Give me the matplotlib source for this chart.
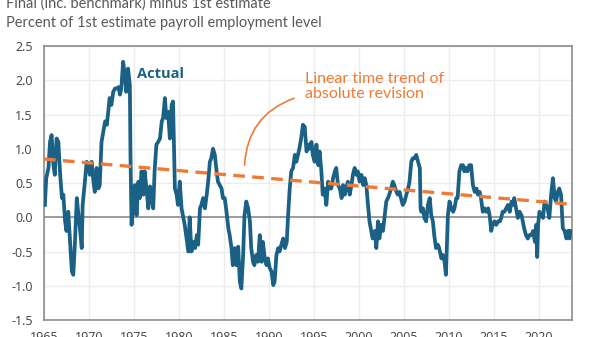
import matplotlib.pyplot as plt

# revision series: year, percent of 1st estimate level
years = [1965.1, 1965.25, 1965.5, 1965.67, 1965.85, 1966.05, 1966.2, 1966.4, 1966.6, 1966.8,
         1967.0, 1967.15, 1967.35, 1967.5, 1967.7, 1967.9, 1968.1, 1968.26, 1968.45, 1968.65,
         1968.8, 1969.0, 1969.2, 1969.3, 1969.55, 1969.75, 1969.95, 1970.1, 1970.3, 1970.5,
         1970.65, 1970.85, 1971.05, 1971.2, 1971.4, 1971.6, 1971.8, 1972.0, 1972.15, 1972.3,
         1972.5, 1972.7, 1972.9, 1973.1, 1973.3, 1973.45, 1973.6, 1973.8, 1974.0, 1974.15,
         1974.35, 1974.55, 1974.62, 1974.74, 1974.9, 1975.1, 1975.3, 1975.5, 1975.65, 1975.85,
         1976.05, 1976.2, 1976.4, 1976.6, 1976.8, 1977.0, 1977.15, 1977.3, 1977.5, 1977.7,
         1977.9, 1978.1, 1978.25, 1978.45, 1978.6, 1978.8, 1979.0, 1979.2, 1979.35, 1979.56,
         1979.75, 1979.9, 1980.1, 1980.3, 1980.5, 1980.65, 1980.85, 1981.05, 1981.2, 1981.4,
         1981.6, 1981.8, 1982.0, 1982.15, 1982.35, 1982.5, 1982.7, 1982.9, 1983.1, 1983.26,
         1983.45, 1983.6, 1983.8, 1984.0, 1984.2, 1984.35, 1984.55, 1984.75, 1984.9, 1985.1,
         1985.3, 1985.5, 1985.65, 1985.85, 1986.0, 1986.2, 1986.4, 1986.6, 1986.78, 1986.95,
         1987.15, 1987.3, 1987.5, 1987.7, 1987.9, 1988.05, 1988.25, 1988.4, 1988.6, 1988.8,
         1989.0, 1989.2, 1989.35, 1989.55, 1989.75, 1989.9, 1990.1, 1990.3, 1990.5, 1990.65,
         1990.85, 1991.05, 1991.2, 1991.4, 1991.6, 1991.8, 1992.0, 1992.15, 1992.33, 1992.5,
         1992.7, 1992.9, 1993.07, 1993.25, 1993.4, 1993.6, 1993.8, 1994.0, 1994.2, 1994.4,
         1994.55, 1994.75, 1994.9, 1995.1, 1995.3, 1995.5, 1995.65, 1995.85, 1996.0, 1996.2,
         1996.4, 1996.6, 1996.8, 1996.95, 1997.15, 1997.35, 1997.5, 1997.7, 1997.9, 1998.1,
         1998.26, 1998.45, 1998.6, 1998.8, 1999.0, 1999.2, 1999.35, 1999.55, 1999.75, 1999.9,
         2000.1, 2000.3, 2000.5, 2000.67, 2000.85, 2001.0, 2001.2, 2001.4, 2001.55, 2001.8,
         2001.96, 2002.15, 2002.3, 2002.5, 2002.7, 2002.9, 2003.07, 2003.25, 2003.4, 2003.6,
         2003.8, 2003.95, 2004.2, 2004.35, 2004.55, 2004.7, 2004.9, 2005.1, 2005.3, 2005.5,
         2005.65, 2005.85, 2006.0, 2006.2, 2006.4, 2006.6, 2006.8, 2006.88, 2006.96, 2007.15,
         2007.3, 2007.5, 2007.7, 2007.9, 2008.07, 2008.25, 2008.4, 2008.6, 2008.8, 2008.95,
         2009.2, 2009.35, 2009.55, 2009.7, 2009.8, 2009.92, 2010.1, 2010.3, 2010.5, 2010.65,
         2010.85, 2011.0, 2011.2, 2011.4, 2011.6, 2011.75, 2011.95, 2012.1, 2012.3, 2012.5,
         2012.7, 2012.9, 2013.1, 2013.26, 2013.45, 2013.6, 2013.8, 2014.0, 2014.2, 2014.4,
         2014.56, 2014.74, 2014.9, 2015.1, 2015.3, 2015.5, 2015.7, 2015.85, 2016.0, 2016.2,
         2016.4, 2016.6, 2016.8, 2017.0, 2017.15, 2017.3, 2017.5, 2017.7, 2017.9, 2018.1,
         2018.25, 2018.4, 2018.6, 2018.8, 2019.0, 2019.2, 2019.4, 2019.6, 2019.75, 2019.85,
         2019.95, 2020.1, 2020.3, 2020.5, 2020.67, 2020.85, 2021.0, 2021.2, 2021.4, 2021.6,
         2021.8, 2021.95, 2022.15, 2022.3, 2022.5, 2022.7, 2022.9, 2023.1, 2023.25, 2023.45,
         2023.55]
actual = [0.18, 0.57, 0.72, 1.10, 1.20, 0.76, 0.62, 1.15, 1.10, 0.62,
          0.28, 0.33, -0.06, -0.20, 0.08, -0.35, -0.79, -0.84, -0.35, 0.28,
          0.08, -0.16, -0.45, 0.18, 0.52, 0.81, 0.76, 0.62, 0.81, 0.52,
          0.37, 0.72, 0.42, 0.47, 1.10, 1.25, 1.40, 1.35, 1.54, 1.74,
          1.64, 1.83, 1.88, 1.88, 1.90, 1.79, 1.88, 2.27, 2.08, 1.83,
          2.17, 1.93, 0.91, -0.11, 0.13, 0.47, 0.03, 0.52, 0.28, 0.67,
          0.33, 0.67, 0.42, 0.13, 0.45, 0.25, 0.13, 0.67, 1.06, 1.10,
          1.15, 1.40, 1.45, 1.74, 1.45, 1.54, 1.15, 1.64, 1.69, 0.42,
          0.33, 0.18, 0.52, 0.13, -0.01, -0.11, -0.31, -0.50, 0.00, -0.50,
          -0.36, -0.45, -0.26, -0.40, 0.13, 0.18, 0.28, 0.13, 0.33, 0.52,
          0.81, 0.86, 1.00, 0.91, 0.67, 0.52, 0.47, 0.42, 0.28, 0.28,
          0.08, -0.16, -0.26, -0.45, -0.70, -0.45, -0.70, -0.43, -0.94, -1.04,
          -0.55, 0.03, 0.23, 0.13, -0.06, -0.45, -0.65, -0.70, -0.55, -0.65,
          -0.26, -0.65, -0.36, -0.60, -0.70, -0.60, -0.74, -0.79, -0.99, -0.94,
          -0.55, -0.45, -0.50, -0.40, -0.31, -0.45, -0.36, 0.03, 0.42, 0.67,
          0.72, 0.91, 0.81, 0.91, 1.00, 1.15, 1.35, 1.32, 0.96, 1.06,
          1.00, 1.10, 0.91, 0.81, 1.06, 0.76, 0.96, 0.67, 0.33, 0.42,
          0.18, 0.52, 0.42, 0.42, 0.57, 0.67, 0.72, 0.47, 0.42, 0.28,
          0.47, 0.33, 0.42, 0.52, 0.33, 0.47, 0.62, 0.72, 0.62, 0.67,
          0.52, 0.62, 0.47, 0.57, 0.47, 0.23, -0.06, -0.20, -0.31, -0.20,
          -0.45, -0.06, -0.31, -0.11, -0.20, 0.03, 0.23, 0.28, 0.33, 0.42,
          0.52, 0.47, 0.37, 0.33, 0.37, 0.28, 0.18, 0.23, 0.33, 0.42,
          0.52, 0.81, 0.86, 0.86, 0.91, 0.81, 0.72, 0.13, 0.08, 0.13,
          -0.01, -0.06, 0.18, 0.28, 0.03, -0.06, -0.26, -0.45, -0.40, -0.45,
          -0.60, -0.55, -0.65, -0.84, -0.45, 0.03, 0.23, 0.13, 0.08, 0.13,
          0.28, 0.28, 0.67, 0.76, 0.76, 0.67, 0.72, 0.67, 0.76, 0.76,
          0.47, 0.37, 0.42, 0.33, 0.37, 0.28, 0.08, 0.13, 0.08, 0.13,
          0.03, -0.20, -0.11, -0.06, -0.11, -0.06, -0.06, -0.01, 0.08, 0.08,
          0.13, 0.18, 0.08, 0.23, 0.18, 0.28, 0.13, -0.01, 0.08, 0.03,
          -0.06, -0.16, -0.26, -0.31, -0.26, -0.26, -0.20, -0.36, -0.11, -0.58,
          -0.11, 0.08, 0.03, -0.01, 0.23, 0.18, 0.13, -0.01, 0.33, 0.57,
          0.28, 0.23, 0.37, 0.42, 0.33, -0.16, -0.20, -0.31, -0.20, -0.31,
          -0.20]

# linear time trend of absolute revision (end points)
trend_years = [1965.0, 2023.6]
trend_values = [0.85, 0.19]

x_ticks = list(range(1965, 2025, 5))
y_ticks = [-1.5, -1.0, -0.5, 0.0, 0.5, 1.0, 1.5, 2.0, 2.5]

blue = "#1b6085"
orange = "#ef7a35"
grey_text = "#595959"

plt.rcParams['font.family'] = ['Open Sans', 'DejaVu Sans']

fig = plt.figure(figsize=(6, 3.37), dpi=100)
ax = fig.add_axes([0.0733, 0.0504, 0.8797, 0.8131])

ax.grid(True, color="#ececec", linewidth=1.0)
ax.set_axisbelow(True)
ax.axhline(0, color="#8c8c8c", linewidth=1.2, zorder=1)

ax.plot(years, actual, color=blue, linewidth=2.7, solid_joinstyle="round", zorder=3)
ax.plot(trend_years, trend_values, color=orange, linewidth=2.4,
        dashes=(3.5, 2.2), zorder=4)

ax.set_xlim(1965, 2023.7)
ax.set_ylim(-1.5, 2.5)
ax.set_xticks(x_ticks)
ax.set_yticks(y_ticks)
ax.set_yticklabels([f"{v:.1f}" for v in y_ticks])
ax.tick_params(length=0, labelsize=9, colors="#404040", pad=8)
ax.tick_params(axis="x", pad=8)
for s in ax.spines.values():
    s.set_color("#8c8c8c")
    s.set_linewidth(1.2)

ax.text(1975.4, 2.09, "Actual", color=blue, fontsize=10.5, fontweight="bold",
        va="center", ha="left")
ax.text(1994.0, 1.91, "Linear time trend of\nabsolute revision", color=orange,
        fontsize=11.5, va="center", ha="left", linespacing=1.1,
        family=['Lato', 'DejaVu Sans'])
ax.annotate("", xy=(1987.3, 0.72), xytext=(1993.1, 1.75),
            arrowprops=dict(arrowstyle="-", color=orange, lw=1.2,
                            connectionstyle="arc3,rad=0.35"))

fig.text(0.01, 0.99, "Final (inc. benchmark) minus 1st estimate", color=grey_text,
         fontsize=10.5, va="center", ha="left", family=['Lato', 'DejaVu Sans'])
fig.text(0.01, 0.932, "Percent of 1st estimate payroll employment level",
         color=grey_text, fontsize=10.5, va="center", ha="left",
         family=['Lato', 'DejaVu Sans'])

fig.savefig("out.png", dpi=100)
